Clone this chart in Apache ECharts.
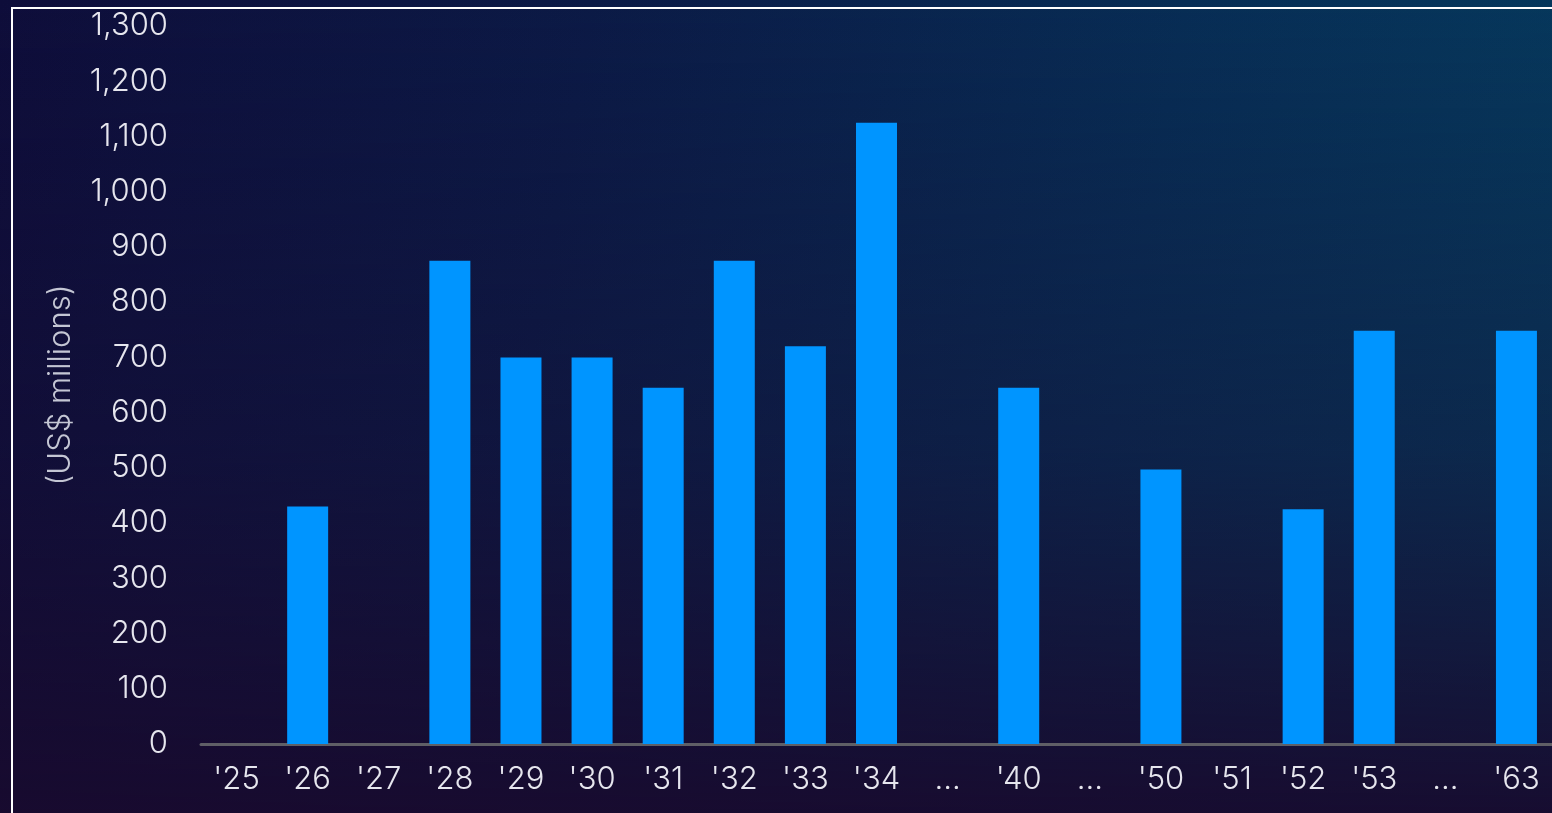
<!DOCTYPE html>
<html>
<head>
<meta charset="utf-8">
<script src="https://cdn.jsdelivr.net/npm/echarts@6/dist/echarts.min.js"></script>
<style>
html,body{margin:0;padding:0;width:1552px;height:813px;overflow:hidden;}
body{
  background:
    linear-gradient(to bottom, rgba(24,12,48,0) 0%, rgba(24,12,48,0.35) 55%, rgba(24,10,46,0.95) 100%),
    linear-gradient(100deg, #0e0d3a 0%, #0b1a46 35%, #072d55 70%, #053b5e 100%);
}
#frame{position:absolute;left:11px;top:7px;width:1600px;height:900px;border:2px solid #ffffff;box-sizing:border-box;}
#chart{position:absolute;left:0;top:0;width:1552px;height:813px;}
</style>
</head>
<body>
<div id="frame"></div>
<div id="chart"></div>
<script>
const categories = ["'25","'26","'27","'28","'29","'30","'31","'32","'33","'34","...","'40","...","'50","'51","'52","'53","...","'63"];
const values = [null,430,null,875,700,700,645,875,720,1125,null,645,null,497,null,425,748,null,748];
const yTitle = "(US$ millions)";

const chart = echarts.init(document.getElementById('chart'), null, {renderer:'canvas'});
chart.setOption({
  backgroundColor: 'transparent',
  animation: false,
  grid: {left: 201, right: 0, top: 26, bottom: 69, containLabel: false},
  xAxis: {
    type: 'category',
    data: categories,
    axisLine: {show: true, lineStyle: {color: '#5f5f66', width: 3}},
    axisTick: {show: false},
    axisLabel: {color: '#e6e6ee', fontSize: 31, fontFamily: 'Inter', fontWeight: 300, margin: 20, interval: 0}
  },
  yAxis: {
    type: 'value',
    min: 0, max: 1300, interval: 100,
    name: yTitle,
    nameLocation: 'middle',
    nameGap: 125,
    nameRotate: 90,
    nameTextStyle: {color: '#c4c6d4', fontSize: 31, fontFamily: 'Inter', fontWeight: 300},
    axisLine: {show: false},
    axisTick: {show: false},
    splitLine: {show: false},
    axisLabel: {
      color: '#e6e6ee', fontSize: 31, fontFamily: 'Inter', fontWeight: 300, margin: 33,
      padding: [4, 0, 0, 0],
      formatter: v => v.toLocaleString('en-US')
    }
  },
  series: [{
    type: 'bar',
    data: values,
    barWidth: 41,
    itemStyle: {color: '#0095ff'}
  }]
});
</script>
</body>
</html>
